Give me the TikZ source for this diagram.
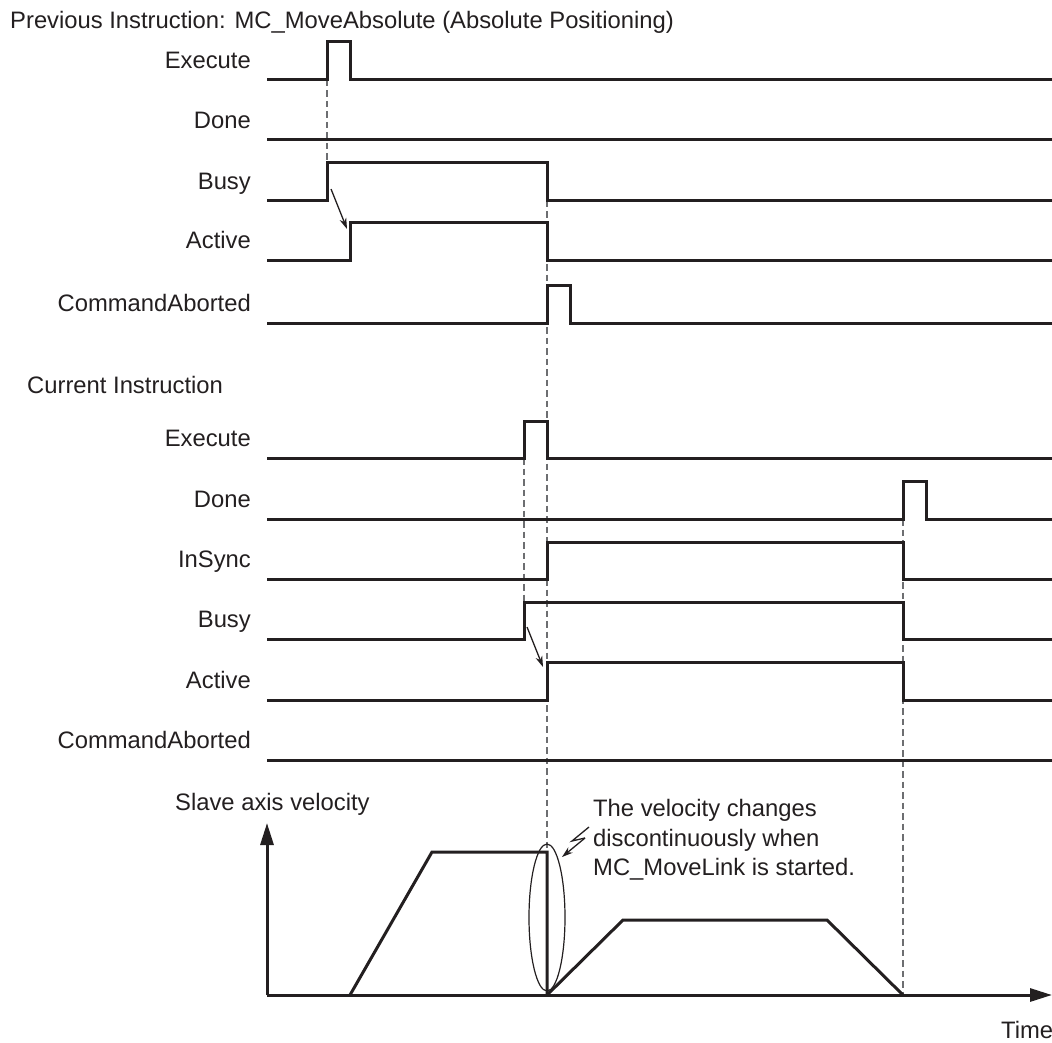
\documentclass[tikz,border=0pt]{standalone}
\usepackage{fontspec}
\setmainfont{Liberation Sans}
\usetikzlibrary{arrows.meta,shapes.geometric}
\definecolor{ink}{HTML}{231F20}
\definecolor{guidecol}{HTML}{6D6E71}
\tikzset{
  sig/.style={line width=3pt, draw=ink, line join=miter, line cap=butt},
  guide/.style={line width=1.6pt, draw=guidecol, dash pattern=on 6.5pt off 4pt},
  lbl/.style={font=\fontsize{23.8}{29}\selectfont, text=ink, inner sep=0pt, anchor=base east},
  txt/.style={font=\fontsize{23.8}{29}\selectfont, text=ink, inner sep=0pt, anchor=base west},
  thin/.style={line width=1.3pt, draw=ink},
  smallarrow/.style={line width=1.3pt, draw=ink, -{Stealth[length=11pt,width=7pt]}},
  axisarrow/.style={line width=3pt, draw=ink, -{Triangle[length=22pt,width=13pt]}}
}
\begin{document}
\begin{tikzpicture}[x=1pt,y=1pt]
\useasboundingbox (0,0) rectangle (1052,-1043);

% ---- titles ----
\node[txt] (title1) at (10,-29) {Previous Instruction: MC\_MoveAbsolute (Absolute Positioning)};
\node[txt] (title2) at (27,-393) {Current Instruction};

% ---- previous instruction labels ----
\node[lbl] (pExe) at (251,-68.5) {Execute};
\node[lbl] (pDone) at (251,-128.5) {Done};
\node[lbl] (pBusy) at (251,-189.5) {Busy};
\node[lbl] (pAct) at (251,-248.5) {Active};
\node[lbl] (pCA) at (251,-311.5) {CommandAborted};

% ---- current instruction labels ----
\node[lbl] (cExe) at (251,-446.5) {Execute};
\node[lbl] (cDone) at (251,-507.5) {Done};
\node[lbl] (cIns) at (251,-567.5) {InSync};
\node[lbl] (cBusy) at (251,-627.5) {Busy};
\node[lbl] (cAct) at (251,-688.5) {Active};
\node[lbl] (cCA) at (251,-748.5) {CommandAborted};

% ---- guide lines (dashed) ----
\draw[guide] (327,-80) -- (327,-201);
\draw[guide] (547,-201) -- (547,-995);
\draw[guide] (524,-458) -- (524,-639);
\draw[guide] (903,-519) -- (903,-995);

% ---- previous instruction waveforms ----
\draw[sig] (267,-80) -- (327,-80) -- (327,-42) -- (350,-42) -- (350,-80) -- (1052,-80);
\draw[sig] (267,-140) -- (1052,-140);
\draw[sig] (267,-201) -- (327,-201) -- (327,-163) -- (547,-163) -- (547,-201) -- (1052,-201);
\draw[sig] (267,-260) -- (350,-260) -- (350,-223) -- (547,-223) -- (547,-260) -- (1052,-260);
\draw[sig] (267,-323) -- (547,-323) -- (547,-285) -- (570,-285) -- (570,-323) -- (1052,-323);

% ---- current instruction waveforms ----
\draw[sig] (267,-458) -- (524,-458) -- (524,-421) -- (547,-421) -- (547,-458) -- (1052,-458);
\draw[sig] (267,-519) -- (903,-519) -- (903,-481) -- (926,-481) -- (926,-519) -- (1052,-519);
\draw[sig] (267,-579) -- (547,-579) -- (547,-542) -- (903,-542) -- (903,-579) -- (1052,-579);
\draw[sig] (267,-639) -- (524,-639) -- (524,-602) -- (903,-602) -- (903,-639) -- (1052,-639);
\draw[sig] (267,-700) -- (547,-700) -- (547,-662) -- (903,-662) -- (903,-700) -- (1052,-700);
\draw[sig] (267,-760) -- (1052,-760);

% ---- cause arrows ----
\coordinate (pa1) at (331,-189);
\coordinate (pa2) at (347,-229);
\draw[smallarrow] (pa1) -- (pa2);
\coordinate (ca1) at (527,-627);
\coordinate (ca2) at (543,-667);
\draw[smallarrow] (ca1) -- (ca2);

% ---- velocity graph ----
\coordinate (origin) at (267,-995);
\coordinate (ytip) at (267,-823);
\coordinate (xtip) at (1052,-995);
\draw[axisarrow] (origin) -- (ytip);
\draw[axisarrow] (origin) -- (xtip);
\node[txt] (vlabel) at (175,-810) {Slave axis velocity};
\node[txt] (tlabel) at (1001,-1038) {Time};

\draw[sig] (350,-995) -- (432,-852) -- (547,-852) -- (547,-995);
\draw[sig] (547,-995) -- (623,-920) -- (827,-920) -- (903,-995);

% ---- ellipse and note ----
\node[draw=ink, line width=1.2pt, ellipse, minimum width=36pt, minimum height=147pt, inner sep=0pt] (ell) at (547,-917.5) {};
\coordinate (sq1) at (589,-827);
\coordinate (sq2) at (572,-841);
\coordinate (sq3) at (585,-838);
\coordinate (sqtip) at (562,-857);
\draw[thin] (sq1) -- (sq2) -- (sq3);
\draw[smallarrow] (sq3) -- (sqtip);
\node[txt] (note1) at (593,-816.5) {The velocity changes};
\node[txt] (note2) at (593,-846) {discontinuously when};
\node[txt] (note3) at (593,-875.5) {MC\_MoveLink is started.};
\end{tikzpicture}
\end{document}
